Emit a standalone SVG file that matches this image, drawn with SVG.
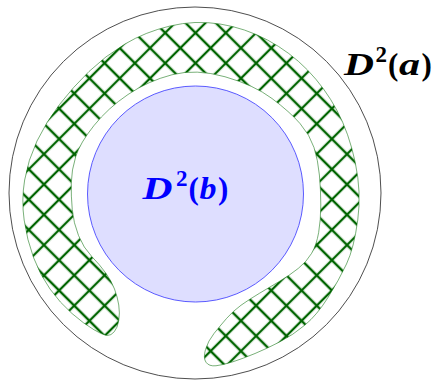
<svg xmlns="http://www.w3.org/2000/svg" width="436" height="381" viewBox="0 0 436 381">
<style>
.lbl{font-family:"Liberation Serif","Times New Roman",serif;font-weight:bold;font-size:31px}
.it{font-style:italic}
.sup{font-size:23px}
</style>
<defs>
<pattern id="hatch" patternUnits="userSpaceOnUse" width="21.43" height="21.43" patternTransform="translate(-1.5 2.55) rotate(45)">
<path d="M0 10.715H21.43M10.715 0V21.43" stroke="#006400" stroke-width="2.3" fill="none"/>
</pattern>
</defs>
<rect width="436" height="381" fill="#fff"/>
<g id="disk-a">
<circle cx="195" cy="193" r="186" fill="none" stroke="#3a3a3a" stroke-width="0.9"/>
</g>
<g id="band">
<path fill="url(#hatch)" stroke="#1f7a1f" stroke-width="0.6" d="M107.5 335.5Q104 335.5 94 329.75Q84 324 72 313.5Q60 303 50 289Q40 275 33.5 257.5Q27 240 24.15 220Q21.3 200 24.65 180Q28 160 37 141Q46 122 59.5 104.5Q73 87 89 71.5Q105 56 125 44Q145 32 170 26Q195 20 220 24Q245 28 267.5 40Q290 52 307.5 70Q325 88 337 110.5Q349 133 355.25 162.5Q361.5 192 357.75 220Q354 248 346.5 264Q339 280 328 297.5Q317 315 305 325Q293 335 280 341.75Q267 348.5 255 353.5Q243 358.5 233 361.75Q223 365 216 365.75Q209 366.5 206 362.25Q203 358 205.5 349.5Q208 341 214 333.5Q220 326 226.5 318.5Q233 311 241 305.25Q249 299.5 259.5 293.25Q270 287 280 281Q290 275 298.350 268.35Q306.7 261.7 311.6 253.35Q316.5 245 318.65 232.5Q320.8 220 320.8 205Q320.8 190 319.4 175Q318 160 314 147.5Q310 135 300 123.5Q290 112 272 98.5Q254 85 225 76.75Q196 68.5 172 74.75Q148 81 128 94.5Q108 108 94 125.5Q80 143 75.75 156.5Q71.5 170 71.25 183Q71 196 72.25 209.5Q73.5 223 78.5 235.5Q83.5 248 91.75 256.5Q100 265 105.75 273Q111.5 281 114.5 289Q117.5 297 118.75 305Q120 313 118.75 320.5Q117.5 328 114.25 331.75Q111 335.5 107.5 335.5Z"/>
</g>
<g id="disk-b">
<circle cx="195.5" cy="194" r="108" fill="#dedeff" stroke="#4a4aff" stroke-width="0.9"/>
</g>
<g id="label-a">
<text class="lbl" fill="#000"><tspan class="it" x="344" y="75" textLength="30" lengthAdjust="spacingAndGlyphs">D</tspan><tspan class="sup" x="375.5" y="62">2</tspan><tspan x="388" y="75">(</tspan><tspan class="it" x="399" y="75" textLength="21" lengthAdjust="spacingAndGlyphs">a</tspan><tspan x="421.5" y="75">)</tspan></text>
</g>
<g id="label-b">
<text class="lbl" fill="#0000ff"><tspan class="it" x="142.5" y="198.5" textLength="30" lengthAdjust="spacingAndGlyphs">D</tspan><tspan class="sup" x="176" y="185.5">2</tspan><tspan x="188.5" y="198.5">(</tspan><tspan class="it" x="199.5" y="198.5" textLength="17" lengthAdjust="spacingAndGlyphs">b</tspan><tspan x="218" y="198.5">)</tspan></text>
</g>
</svg>
